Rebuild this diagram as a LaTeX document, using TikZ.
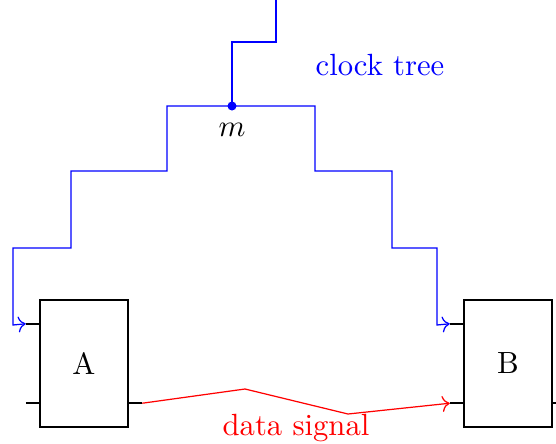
\documentclass[tikz,border=0pt]{standalone}
\usetikzlibrary{arrows.meta,positioning,calc}
\begin{document}
\begin{tikzpicture}[x=0.326pt,y=-0.326pt,>=To,
  block/.style={draw,thick,minimum width=28.7pt,minimum height=41.4pt,inner sep=0pt},
  pin/.style={thick},
  clk/.style={blue},
  data/.style={red}]
  \useasboundingbox (0,0) rectangle (556,443);
  \node[block] (A) at (84,363.5) {A};
  \node[block] (B) at (508,363.5) {B};
  % pin ends
  \coordinate (A-clk) at ($(A.north west)+(-13,25)$);
  \coordinate (A-in) at ($(A.south west)+(-13,-25)$);
  \coordinate (A-out) at ($(A.south east)+(13,-25)$);
  \coordinate (B-clk) at ($(B.north west)+(-13,25)$);
  \coordinate (B-in) at ($(B.south west)+(-13,-25)$);
  \coordinate (B-out) at ($(B.south east)+(13,-25)$);
  \draw[pin] (A-clk) -- (A-clk -| A.west);
  \draw[pin] (A-in) -- (A-in -| A.west);
  \draw[pin] (A-out) -- (A-out -| A.east);
  \draw[pin] (B-clk) -- (B-clk -| B.west);
  \draw[pin] (B-in) -- (B-in -| B.west);
  \draw[pin] (B-out) -- (B-out -| B.east);
  % clock tree
  \coordinate (root) at (276,-2);
  \coordinate (m) at (232,106);
  \draw[clk] (root) -- (276,42) -| (m);
  \fill[blue] (m) circle (4.5);
  \node[below=2pt of m] (mlabel) {$m$};
  \draw[clk,->] (m) -| (167,171) -| (71,248) -| (13,325) -- (A-clk);
  \draw[clk,->] (m) -| (315,171) -| (392,248) -| (437,325) -- (B-clk);
  \node[blue] (clklabel) at (380,65) {clock tree};
  % data path
  \draw[data,->] (A-out) -- (245,389) -- (348,414) -- (B-in);
  \node[red] (datalabel) at (296,428) {data signal};
\end{tikzpicture}
\end{document}
